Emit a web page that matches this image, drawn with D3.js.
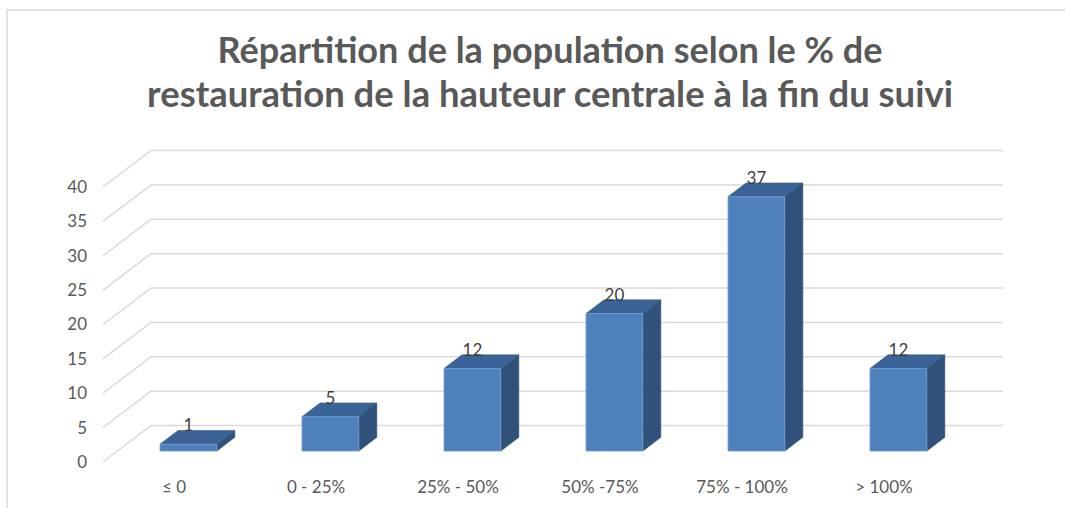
<!DOCTYPE html>
<html>
<head>
<meta charset="utf-8">
<script src="https://cdn.jsdelivr.net/npm/d3@7"></script>
<style>
  html, body { margin: 0; padding: 0; background: #fff; }
  svg { display: block; }
  text { font-family: Lato, "Open Sans", "Liberation Sans", sans-serif; }
</style>
</head>
<body>
<svg id="chart" width="1065" height="508"></svg>
<script>
// Distribution data
const categories = ["≤ 0", "0 - 25%", "25% - 50%", "50% -75%", "75% - 100%", "> 100%"];
const counts = [1, 5, 12, 20, 37, 12];
const yTicks = [0, 5, 10, 15, 20, 25, 30, 35, 40];
const titleLines = [
  "Répartition de la population selon le % de",
  "restauration de la hauteur centrale à la fin du suivi"
];

const svg = d3.select("#chart");
const W = 1065, H = 508;

// Chart frame
svg.append("rect")
  .attr("x", 7).attr("y", 10)
  .attr("width", W + 10).attr("height", H + 10)
  .attr("fill", "#fff")
  .attr("stroke", "#d9d9d9").attr("stroke-width", 1.5);

// Front plane scales; depth is projected by an oblique offset
const x = d3.scaleBand().domain(categories).range([103, 955]).paddingInner(0).paddingOuter(0);
const y = d3.scaleLinear().domain([0, 40]).range([462, 187]);
const DEPTH = [48, -36.5];
const proj = (px, v, d) => [px + d * DEPTH[0], y(v) + d * DEPTH[1]];

// Gridlines: side wall diagonals and back wall horizontals
const grid = svg.append("g").attr("stroke", "#d9d9d9").attr("stroke-width", 1.5).attr("fill", "none");
yTicks.forEach(v => {
  const a = proj(x.range()[0], v, 0), b = proj(x.range()[0], v, 1), c = proj(x.range()[1], v, 1);
  grid.append("polyline").attr("points", [a, b, c].map(p => p.join(",")).join(" "));
});

// Value axis
const yAxis = svg.append("g")
  .attr("transform", `translate(${x.range()[0]},0)`)
  .call(d3.axisLeft(y).tickValues(yTicks).tickSize(0).tickPadding(16));
yAxis.select(".domain").remove();
yAxis.selectAll("text")
  .attr("font-size", 17).attr("fill", "#595959")
  .style("font-family", "Lato, 'Open Sans', sans-serif");

// Category axis
const xAxis = svg.append("g")
  .attr("transform", "translate(0,481)")
  .call(d3.axisBottom(x).tickSize(0).tickPadding(0));
xAxis.select(".domain").remove();
xAxis.selectAll("text")
  .attr("font-size", 17).attr("fill", "#595959")
  .style("font-family", "Lato, 'Open Sans', sans-serif");

// 3D columns
const barW = x.bandwidth() * 0.4;
const d0 = 0.30, d1 = 0.675;
const bars = svg.append("g");
categories.forEach((cat, i) => {
  const v = counts[i];
  const cx = x(cat) + x.bandwidth() / 2;
  const xl = cx - barW / 2, xr = cx + barW / 2;
  const ftl = proj(xl, v, d0), ftr = proj(xr, v, d0);
  const fbl = proj(xl, 0, d0), fbr = proj(xr, 0, d0);
  const btl = proj(xl, v, d1), btr = proj(xr, v, d1);
  const bbr = proj(xr, 0, d1);
  const pts = arr => arr.map(p => p.join(",")).join(" ");
  const g = bars.append("g");
  g.append("polygon").attr("points", pts([ftr, btr, bbr, fbr]))
    .attr("fill", "#30517a").attr("stroke", "#2b4a70").attr("stroke-width", 0.6);
  g.append("polygon").attr("points", pts([ftl, ftr, btr, btl]))
    .attr("fill", "#3b6397").attr("stroke", "#35598a").attr("stroke-width", 0.6);
  g.append("polygon").attr("points", pts([ftl, ftr, fbr, fbl]))
    .attr("fill", "#4f81bd").attr("stroke", "#77a0d2").attr("stroke-width", 0.8);
  // Data label centred over the front face, resting on the back top edge
  g.append("text")
    .attr("x", (ftl[0] + ftr[0]) / 2)
    .attr("y", btl[1] + 1)
    .attr("text-anchor", "middle")
    .attr("font-size", 17)
    .attr("fill", "#404040")
    .text(v);
});

// Title, two lines, each sized to its line width
const title = svg.append("g");
const baselines = [63, 107];
const targetW = [665, 806];
titleLines.forEach((line, i) => {
  const t = title.append("text")
    .attr("x", 550).attr("y", baselines[i])
    .attr("text-anchor", "middle")
    .attr("font-size", 28).attr("font-weight", "bold")
    .attr("fill", "#595959")
    .text(line);
  const w = t.node().getComputedTextLength();
  if (w > 0) t.attr("font-size", (28 * targetW[i] / w).toFixed(2));
});
</script>
</body>
</html>
